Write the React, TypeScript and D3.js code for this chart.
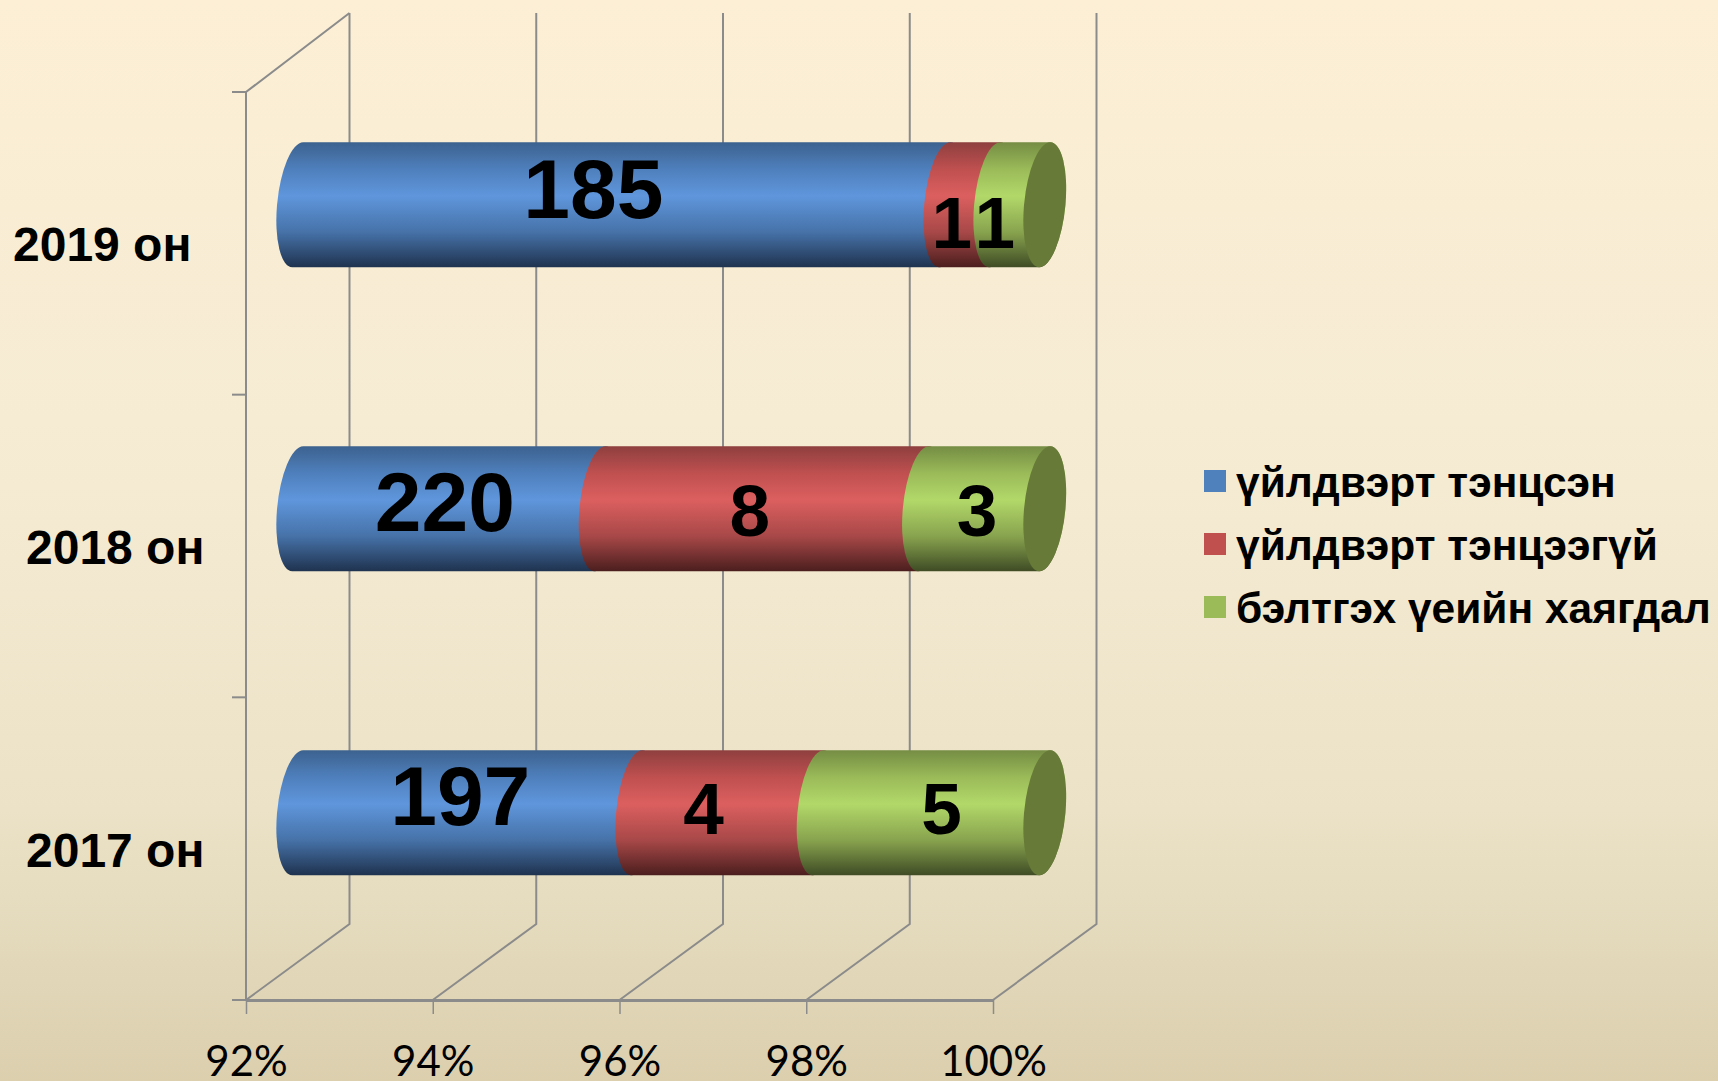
import React, { useEffect, useRef } from 'react';
import * as d3 from 'd3';

const years = ['2019 он', '2018 он', '2017 он'];
const seriesNames = ['үйлдвэрт тэнцсэн', 'үйлдвэрт тэнцээгүй', 'бэлтгэх үеийн хаягдал'];
const passed = [185, 220, 197];
const failed = [1, 8, 4];
const scrap = [1, 3, 5];
const xTicks = [0.92, 0.94, 0.96, 0.98, 1];

// label offsets from the segment middle, the labels were moved by hand in the original
const labelNudge = [
  [[-28, 13], [-18, 43], [-25, 43]],
  [[-4, 22], [-12, 27], [-7, 27]],
  [[-7, 12], [-24, 21], [10, 21]],
];
const yearLabelX = [13, 26, 26];

const WIDTH = 1718;
const HEIGHT = 1081;
const DEPTH_X = 103.5;
const DEPTH_Y = -76;
const RX = 20.7;
const SKEW = -5;

const colors = [
  { name: 'blue', stops: ['#3c628f', '#4f80bd', '#5f96dc', '#4672a8', '#1f334f'], swatch: '#4f81bd' },
  { name: 'red', stops: ['#8f3f3f', '#c05050', '#dc5f5f', '#a84848', '#4c1e1e'], swatch: '#c0504d' },
  { name: 'green', stops: ['#758d44', '#9bbb59', '#b2d869', '#88a34e', '#3f4c25'], swatch: '#9bbb59' },
];
const capColor = '#677a38';
const gridColor = '#8b8b8b';

const App = () => {
  const ref = useRef<SVGSVGElement>(null);

  useEffect(() => {
    const svg = d3.select(ref.current);
    svg.selectAll('*').remove();

    const defs = svg.append('defs');
    const bg = defs.append('linearGradient').attr('id', 'bg').attr('x1', 0).attr('x2', 0).attr('y1', 0).attr('y2', 1);
    [[0, '#fcefd5'], [0.45, '#f5ebd3'], [0.75, '#ebe2c7'], [1, '#dbcfae']].forEach(([o, c]) => {
      bg.append('stop').attr('offset', o).attr('stop-color', c);
    });
    colors.forEach(c => {
      const g = defs.append('linearGradient').attr('id', c.name).attr('x1', 0).attr('x2', 0).attr('y1', 0).attr('y2', 1);
      [0, 0.22, 0.43, 0.72, 1].forEach((o, i) => {
        g.append('stop').attr('offset', o).attr('stop-color', c.stops[i]);
      });
    });

    svg.append('rect').attr('width', WIDTH).attr('height', HEIGHT).attr('fill', 'url(#bg)');

    // front plane of the 3d box
    const x = d3.scaleLinear().domain([0.92, 1]).range([246, 993]);
    const yFront = d3.scaleBand().domain(years).range([92, 1000]);
    // bars sit half way into the depth
    const xMid = (v: number) => x(v) + DEPTH_X / 2;
    const yMid = d3.scaleBand().domain(years)
      .range([52.7, 964.7])
      .paddingInner(0.589).paddingOuter(0.2945);

    const grid = svg.append('g').attr('stroke', gridColor).attr('stroke-width', 2).attr('fill', 'none');
    const floorY = yFront.range()[1];
    const topY = yFront.range()[0];
    const backTop = 13;
    xTicks.forEach(t => {
      grid.append('path').attr('d', d3.line()([
        [x(t), floorY],
        [x(t) + DEPTH_X, floorY + DEPTH_Y],
        [x(t) + DEPTH_X, backTop],
      ]));
    });
    // left wall
    grid.append('path').attr('d', d3.line()([
      [x(0.92), floorY],
      [x(0.92), topY],
      [x(0.92) + DEPTH_X, backTop],
    ]));
    [...years.map(y => yFront(y)), floorY].forEach(v => {
      grid.append('line').attr('x1', x(0.92) - 14).attr('x2', x(0.92)).attr('y1', v).attr('y2', v);
    });

    const axis = svg.append('g')
      .attr('transform', `translate(0,${floorY})`)
      .call(d3.axisBottom(x).tickValues(xTicks).tickSize(14).tickSizeOuter(0).tickPadding(32).tickFormat(d3.format('.0%')));
    axis.select('.domain').attr('stroke', gridColor).attr('stroke-width', 3);
    axis.selectAll('.tick line').attr('stroke', gridColor).attr('stroke-width', 1.5);
    axis.selectAll('.tick text')
      .attr('fill', '#000')
      .attr('font-family', 'Lato')
      .attr('font-size', 42);

    // cylinders
    const r = yMid.bandwidth() / 2;
    const rows = years.map((y, i) => {
      const vals = [passed[i], failed[i], scrap[i]];
      const total = d3.sum(vals);
      let acc = 0;
      const segs = vals.map(v => {
        const s = { v, from: acc / total, to: (acc + v) / total };
        acc += v;
        return s;
      });
      return { y, segs };
    });
    const domainMin = x.domain()[0];
    const clamp = (v: number) => Math.max(v, domainMin);

    rows.forEach((row, ri) => {
      const cy = yMid(row.y) + r;
      const g = svg.append('g').attr('transform', `translate(0,${cy}) skewX(${SKEW})`);
      row.segs.forEach((s, si) => {
        const x0 = xMid(clamp(s.from));
        const x1 = xMid(s.to);
        g.append('path')
          .attr('fill', `url(#${colors[si].name})`)
          .attr('d', `M${x0},${-r}A${RX},${r} 0 0 0 ${x0},${r}L${x1},${r}A${RX},${r} 0 0 0 ${x1},${-r}Z`);
      });
      g.append('ellipse')
        .attr('cx', xMid(1)).attr('cy', 0).attr('rx', RX).attr('ry', r)
        .attr('fill', capColor);

      row.segs.forEach((s, si) => {
        const mid = (xMid(clamp(s.from)) + xMid(s.to)) / 2;
        const big = s.v > 100;
        svg.append('text')
          .attr('x', mid + labelNudge[ri][si][0])
          .attr('y', cy + labelNudge[ri][si][1])
          .attr('text-anchor', 'middle')
          .attr('font-family', 'Liberation Sans')
          .attr('font-weight', 700)
          .attr('font-size', big ? 84 : 73)
          .attr('fill', '#000')
          .text(s.v);
      });

      svg.append('text')
        .attr('x', yearLabelX[ri])
        .attr('y', yFront(row.y) + yFront.bandwidth() / 2 + 18)
        .attr('font-family', 'Liberation Sans')
        .attr('font-weight', 700)
        .attr('font-size', 48)
        .attr('fill', '#000')
        .text(row.y);
    });

    // legend
    const legendY = d3.scalePoint().domain(seriesNames).range([470, 596]);
    const legend = svg.append('g');
    seriesNames.forEach((name, i) => {
      legend.append('rect')
        .attr('x', 1204).attr('y', legendY(name)).attr('width', 22).attr('height', 22)
        .attr('fill', colors[i].swatch);
      legend.append('text')
        .attr('x', 1236)
        .attr('y', legendY(name) + 27)
        .attr('font-family', 'Liberation Sans')
        .attr('font-weight', 700)
        .attr('font-size', 42.5)
        .attr('fill', '#000')
        .text(name);
    });
  }, []);

  return (
    <svg
      ref={ref}
      width={WIDTH}
      height={HEIGHT}
      style={{ position: 'absolute', left: 0, top: 0 }}
    />
  );
};

export default App;
